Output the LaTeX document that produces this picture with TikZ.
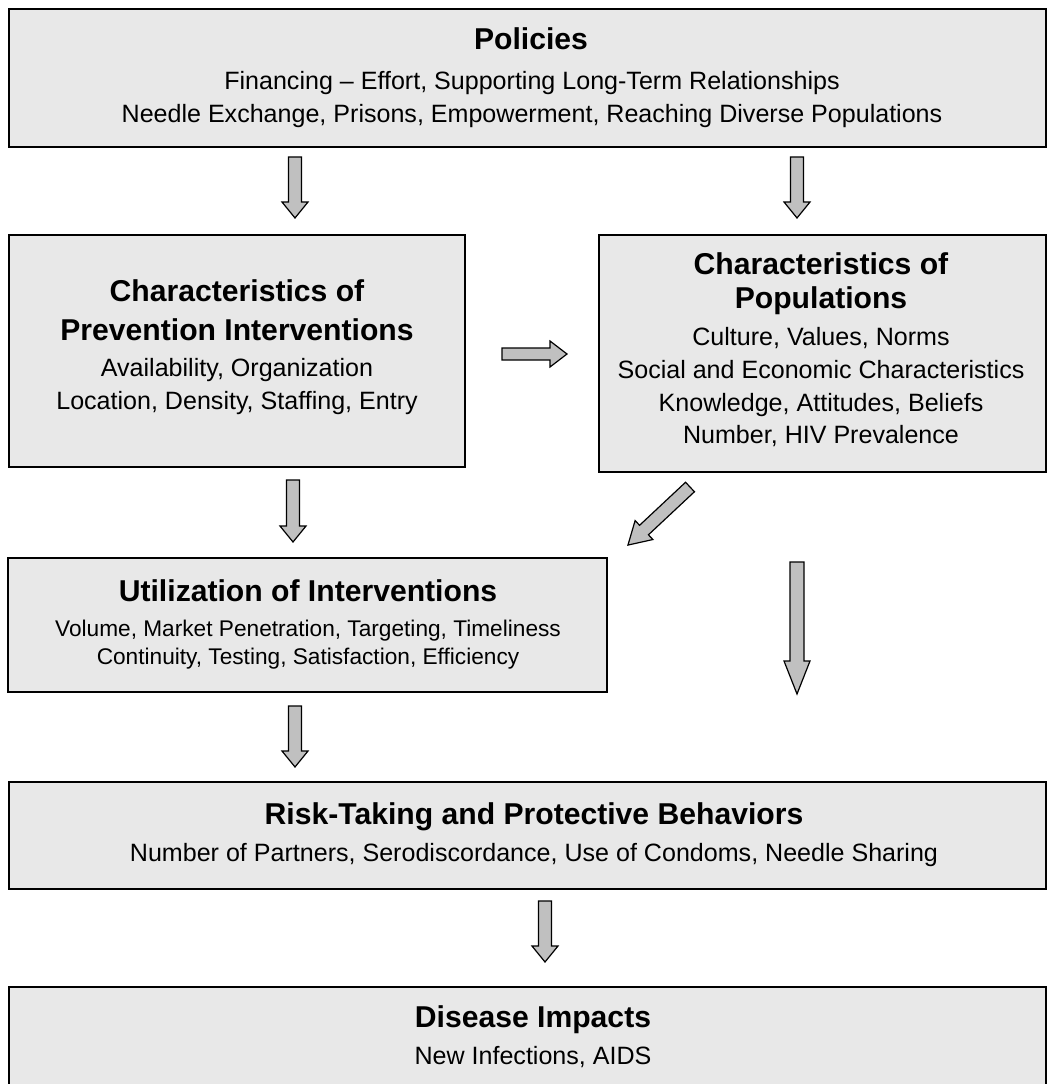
\documentclass[tikz,border=0pt]{standalone}
\usepackage{fontspec}
\setmainfont{Liberation Sans}
\definecolor{boxgray}{HTML}{E8E8E8}
\definecolor{arrgray}{HTML}{C0C0C0}
\newcommand\titlefont{\fontsize{22.6}{26}\selectfont\bfseries}
\newcommand\bodyfont{\fontsize{18.8}{22}\selectfont}
\newcommand\smallbodyfont{\fontsize{17}{20}\selectfont}
\newcommand\barrow[5]{% start coord, angle, length, head length, shaft half width
  \begin{scope}[shift={(#1)}, rotate=#2]
    \draw[barr] (0,-#5) -- ({#3-#4},-#5) -- ({#3-#4},-13) -- (#3,0) -- ({#3-#4},13) -- ({#3-#4},#5) -- (0,#5) -- cycle;
  \end{scope}}
\tikzset{
  box/.style={draw=black, line width=1.5pt, fill=boxgray},
  ttl/.style={font=\titlefont, text height=0.716em, text depth=0pt, inner sep=0pt},
  bod/.style={font=\bodyfont, text height=0.716em, text depth=0pt, inner sep=0pt},
  sbod/.style={font=\smallbodyfont, text height=0.716em, text depth=0pt, inner sep=0pt},
  barr/.style={draw=black, line width=0.9pt, fill=arrgray, line join=miter}
}
\begin{document}
\begin{tikzpicture}[x=0.75pt, y=-0.75pt]
\useasboundingbox (0,0) rectangle (1047,1084);
% boxes
\draw[box] (9,9) rectangle (1046,147);
\node[ttl] (polT) at (531,45) {Policies};
\node[bod] (polA) at (532,85) {Financing -- Effort, Supporting Long-Term Relationships};
\node[bod] (polB) at (532,118) {Needle Exchange, Prisons, Empowerment, Reaching Diverse Populations};

\draw[box] (9,235) rectangle (465,467);
\node[ttl] (prvT1) at (237,297) {Characteristics of};
\node[ttl] (prvT2) at (237,336) {Prevention Interventions};
\node[bod] (prvA) at (237,372) {Availability, Organization};
\node[bod] (prvB) at (237,405) {Location, Density, Staffing, Entry};

\draw[box] (599,235) rectangle (1046,472);
\node[ttl] (popT1) at (821,270) {Characteristics of};
\node[ttl] (popT2) at (821,304) {Populations};
\node[bod] (popA) at (821,341) {Culture, Values, Norms};
\node[bod] (popB) at (821,374) {Social and Economic Characteristics};
\node[bod] (popC) at (821,407) {Knowledge, Attitudes, Beliefs};
\node[bod] (popD) at (821,439) {Number, HIV Prevalence};

\draw[box] (8,558) rectangle (607,692);
\node[ttl] (utiT) at (308,597) {Utilization of Interventions};
\node[sbod] (utiA) at (308,632) {Volume, Market Penetration, Targeting, Timeliness};
\node[sbod] (utiB) at (308,660) {Continuity, Testing, Satisfaction, Efficiency};

\draw[box] (9,782) rectangle (1046,889);
\node[ttl] (rskT) at (534,820) {Risk-Taking and Protective Behaviors};
\node[bod] (rskA) at (534,857) {Number of Partners, Serodiscordance, Use of Condoms, Needle Sharing};

\draw[box] (9,987) rectangle (1046,1100);
\node[ttl] (disT) at (533,1023) {Disease Impacts};
\node[bod] (disA) at (533,1060) {New Infections, AIDS};

% arrows
\coordinate (a1) at (295,157);
\coordinate (a2) at (797,157);
\coordinate (a3) at (502,354);
\coordinate (a4) at (293,480);
\coordinate (a5) at (690,487);
\coordinate (a6) at (797,562);
\coordinate (a7) at (295,706);
\coordinate (a8) at (545,901);
\barrow{a1}{-90}{61}{16}{6.5}
\barrow{a2}{-90}{61}{16}{6.5}
\barrow{a3}{0}{65}{17}{6}
\barrow{a4}{-90}{62}{16}{6.5}
\barrow{a5}{-136.9}{85}{22}{6.5}
\barrow{a6}{-90}{132}{33}{7}
\barrow{a7}{-90}{61}{16}{6.5}
\barrow{a8}{-90}{61}{16}{6.5}
\end{tikzpicture}
\end{document}
